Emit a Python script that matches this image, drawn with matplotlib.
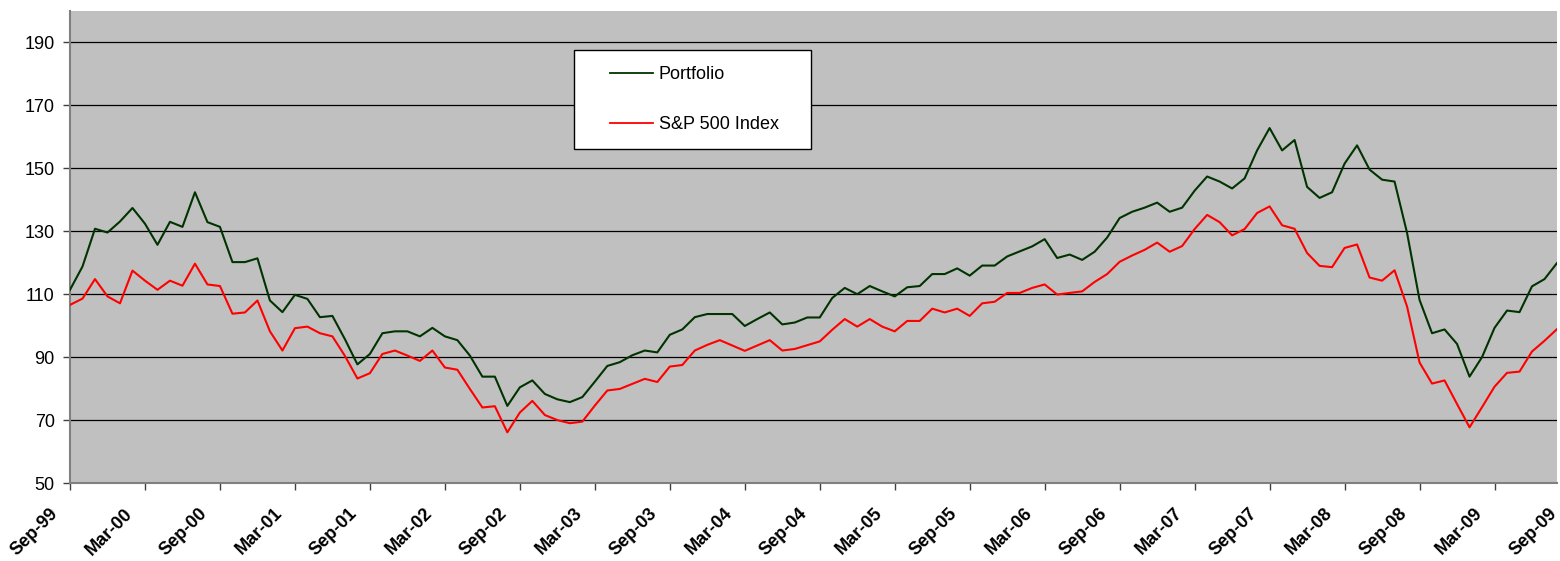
import matplotlib
matplotlib.use("Agg")
import matplotlib.pyplot as plt
import matplotlib.transforms as mtransforms
from matplotlib.patches import Rectangle
import numpy as np

# ---------------- data ----------------
tick_labels = ["Sep-99", "Mar-00", "Sep-00", "Mar-01", "Sep-01", "Mar-02", "Sep-02",
               "Mar-03", "Sep-03", "Mar-04", "Sep-04", "Mar-05", "Sep-05", "Mar-06",
               "Sep-06", "Mar-07", "Sep-07", "Mar-08", "Sep-08", "Mar-09", "Sep-09"]

portfolio = [111.4, 118.8, 130.8, 129.6, 133.1, 137.4, 132.4, 125.7, 133.0, 131.4,
             142.4, 132.9, 131.4, 120.2, 120.2, 121.4, 108.0, 104.3, 109.8, 108.5,
             102.7, 103.1, 95.7, 87.7, 91.0, 97.6, 98.2, 98.2, 96.6, 99.3,
             96.6, 95.4, 90.5, 83.8, 83.8, 74.5, 80.4, 82.6, 78.3, 76.6,
             75.7, 77.3, 82.2, 87.2, 88.4, 90.6, 92.1, 91.5, 97.1, 98.8,
             102.7, 103.7, 103.7, 103.7, 99.9, 102.1, 104.2, 100.4, 101.0, 102.6,
             102.6, 108.8, 112.0, 110.0, 112.6, 110.9, 109.3, 112.2, 112.6, 116.4,
             116.4, 118.2, 115.9, 119.1, 119.1, 122.0, 123.6, 125.2, 127.5, 121.5,
             122.6, 120.9, 123.5, 128.0, 134.2, 136.2, 137.5, 139.1, 136.2, 137.5,
             142.9, 147.4, 145.8, 143.6, 146.8, 155.7, 162.8, 155.7, 159.0, 144.1,
             140.6, 142.4, 151.5, 157.3, 149.6, 146.4, 145.8, 129.5, 108.2, 97.6,
             98.8, 94.2, 83.8, 90.0, 99.3, 104.8, 104.3, 112.5, 114.8, 119.9]

sp500 = [106.6, 108.6, 114.8, 109.3, 107.1, 117.5, 114.3, 111.4, 114.3, 112.7,
         119.7, 113.1, 112.6, 103.8, 104.2, 108.0, 98.2, 92.1, 99.2, 99.7,
         97.6, 96.6, 90.4, 83.2, 84.9, 91.0, 92.1, 90.5, 88.8, 92.1,
         86.7, 86.0, 79.9, 74.0, 74.4, 66.1, 72.4, 76.1, 71.6, 70.0,
         69.0, 69.5, 74.6, 79.4, 79.9, 81.5, 83.1, 82.1, 87.0, 87.5,
         92.1, 93.9, 95.4, 93.7, 92.0, 93.7, 95.4, 92.1, 92.6, 93.8,
         95.0, 98.7, 102.1, 99.7, 102.1, 99.7, 98.2, 101.5, 101.5, 105.4,
         104.2, 105.4, 103.1, 107.1, 107.6, 110.4, 110.4, 112.0, 113.1, 109.9,
         110.4, 110.9, 113.9, 116.4, 120.3, 122.3, 124.1, 126.4, 123.5, 125.3,
         130.7, 135.2, 132.9, 128.7, 130.7, 135.8, 137.9, 131.9, 130.8, 123.1,
         119.0, 118.6, 124.7, 125.8, 115.3, 114.3, 117.6, 106.1, 88.3, 81.6,
         82.6, 75.1, 67.7, 74.1, 80.6, 85.0, 85.4, 91.8, 95.2, 98.9]

series_names = ["Portfolio", "S&P 500 Index"]
y_ticks = [50, 70, 90, 110, 130, 150, 170, 190]

# ---------------- figure ----------------
W, H, DPI = 1560, 561, 100
fig = plt.figure(figsize=(W / DPI, H / DPI), dpi=DPI)
fig.patch.set_facecolor("white")
plt.rcParams["font.family"] = ["Liberation Sans", "DejaVu Sans"]

L, R, T, B = 70, 1557, 11, 483
ax = fig.add_axes([L / W, 1 - B / H, (R - L) / W, (B - T) / H])
ax.set_facecolor("#C0C0C0")

months = np.arange(len(portfolio))
ax.plot(months, portfolio, color="#003300", lw=1.5, label=series_names[0], zorder=3)
ax.plot(months, sp500, color="#FF0000", lw=1.5, label=series_names[1], zorder=3)

ax.set_xlim(0, len(portfolio) - 1)
ax.set_ylim(50, 200)

ax.set_yticks(y_ticks)
ax.set_yticklabels([str(v) for v in y_ticks], fontsize=13)
ax.yaxis.grid(True, color="black", lw=0.9)
ax.set_axisbelow(True)

tick_pos = [6 * i for i in range(len(tick_labels))]
ax.set_xticks([p for p in tick_pos if p <= len(portfolio) - 1])
ax.set_xticklabels([])

ax.tick_params(axis="y", direction="out", length=5, width=1, color="#404040", pad=6)
ax.tick_params(axis="x", direction="out", length=5, width=1, color="#404040")

for s in ["top", "right"]:
    ax.spines[s].set_visible(False)
for s in ["left", "bottom"]:
    ax.spines[s].set_color("#808080")
    ax.spines[s].set_linewidth(1.5)

# rotated bold x labels (including the end label beyond the last point)
trans = mtransforms.blended_transform_factory(ax.transData, ax.transAxes)
off = mtransforms.ScaledTranslation(-9 / DPI, -22 / DPI, fig.dpi_scale_trans)
for p, lab in zip(tick_pos, tick_labels):
    ax.text(p, 0, lab, transform=trans + off, rotation=45, ha="right", va="top",
            fontsize=13, fontweight="bold", clip_on=False)

# legend: white box with a frameless legend inside
box = Rectangle((574 / W, 1 - 149 / H), (811 - 574) / W, (149 - 50) / H,
                transform=fig.transFigure, facecolor="white", edgecolor="black",
                lw=1.0, zorder=5)
fig.patches.append(box)
leg = fig.legend(loc="upper left", bbox_to_anchor=(610 / W, 1 - 66 / H),
                 frameon=False, fontsize=13, handlelength=2.4, handletextpad=0.3,
                 labelspacing=1.85, borderpad=0, borderaxespad=0)
leg.set_zorder(6)
for line in leg.get_lines():
    line.set_linewidth(1.3)

fig.savefig("out.png", dpi=DPI, facecolor="white")
